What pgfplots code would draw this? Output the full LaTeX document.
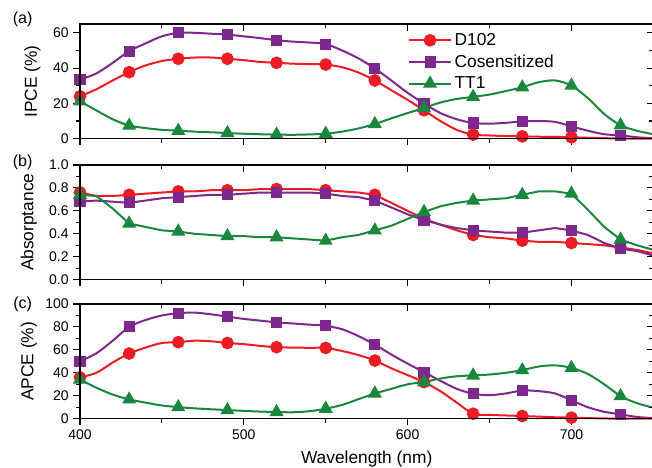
\documentclass[border=0pt]{standalone}
\usepackage{fontspec}
\setmainfont{Liberation Sans}
\usepackage{pgfplots}
\usepackage{pgfplotstable}
\pgfplotsset{compat=1.18}

\definecolor{cRed}{RGB}{237,28,36}
\definecolor{cPur}{RGB}{125,40,140}
\definecolor{cGrn}{RGB}{25,135,60}

% IPCE (%)
\pgfplotstableread{
nm d102 cos tt1
400 24 33.5 21.2
410 28 37 16
420 33 43 11
430 37.7 49.6 7.4
440 41.5 54 6
450 44 58 5
460 45.3 60 4.5
470 46 60 4
480 46 59.5 3.6
490 45.3 59 3.2
500 44.5 58 2.8
510 43.5 57 2.5
520 43 55.8 2.3
530 42.5 55 2.2
540 42.3 54.5 2.4
550 42 53.6 2.8
560 40.5 50 4
570 37.5 45.5 5.8
580 33 39.8 8.3
590 27.5 33 11.5
600 22 26 14.5
610 16.1 19.9 17.4
620 10 14.5 20.5
630 5 11 22.5
640 2.3 8.9 23.7
650 1.8 8.5 25
660 1.5 9 27
670 1.3 9.8 29.1
680 1.1 10 32
690 1 9.5 33
700 0.8 7 30.1
710 0.5 4.5 23
720 0.3 2.5 14
730 0 1.9 7.6
740 0 0.8 4.5
750 0 0.3 2.5
}\tabIPCE

% Absorptance
\pgfplotstableread{
nm d102 cos tt1
400 0.76 0.68 0.74
410 0.73 0.69 0.73
420 0.73 0.68 0.62
430 0.74 0.67 0.49
440 0.75 0.69 0.46
450 0.76 0.71 0.43
460 0.77 0.72 0.42
470 0.77 0.73 0.40
480 0.78 0.74 0.39
490 0.78 0.74 0.38
500 0.78 0.75 0.38
510 0.79 0.76 0.37
520 0.79 0.76 0.37
530 0.79 0.76 0.36
540 0.79 0.76 0.35
550 0.78 0.75 0.34
560 0.77 0.73 0.37
570 0.76 0.72 0.39
580 0.74 0.69 0.43
590 0.67 0.63 0.47
600 0.60 0.57 0.53
610 0.53 0.52 0.59
620 0.48 0.48 0.64
630 0.43 0.45 0.67
640 0.39 0.43 0.69
650 0.37 0.42 0.70
660 0.36 0.41 0.71
670 0.34 0.41 0.74
680 0.33 0.43 0.77
690 0.33 0.45 0.77
700 0.32 0.43 0.75
710 0.31 0.39 0.61
720 0.30 0.32 0.46
730 0.28 0.27 0.35
740 0.26 0.25 0.30
750 0.23 0.21 0.26
}\tabAbs

% APCE (%)
\pgfplotstableread{
nm d102 cos tt1
400 36 50 34.2
410 40 57 27
420 49 68 21
430 56.8 80 16.8
440 62 86 14
450 66 90 11.5
460 66.7 92 10.1
470 68 92.5 9
480 67.5 91 8.2
490 66 89 7.5
500 65 87 6.8
510 63.5 85.5 6.2
520 62.3 84 5.8
530 62 83 5.6
540 61.8 82 6.5
550 61.7 81 8.7
560 59 78 12
570 55.5 72 17
580 50.7 64.6 22
590 44 56 26
600 38 48 30
610 31.9 40.6 32
620 24 33 35
630 14 26 37
640 4.3 21.7 37.7
650 3.3 20.5 38.5
660 2.8 22 40
670 2.3 24.6 42.3
680 1.8 24 45.5
690 1.2 22 46.5
700 0.9 16 44.3
710 0.5 10 39
720 0.2 6 30
730 0 3.8 19.7
740 0 1.5 13.5
750 0 0.5 9.6
}\tabAPCE

\pgfplotsset{
  panel/.style={
    scale only axis, width=430pt, height=86pt,
    xmin=400, xmax=750, xtick={400,500,600,700},
    minor x tick num=1, minor y tick num=1,
    axis line style={line width=0.9pt},
    every tick/.style={line width=0.8pt, black},
    major tick length=5pt, minor tick length=3pt,
    tick label style={font=\fontsize{10.5}{12}\selectfont},
    label style={font=\fontsize{13}{15}\selectfont},
    /pgf/number format/assume math mode=true,
    clip=false,
  },
  front/.style={panel, tick pos=left, tick align=outside},
  mirror/.style={panel, tick pos=right, tick align=inside,
    xticklabels={}, yticklabels={}},
  sRed/.style={color=cRed, line width=1.5pt, mark=*, mark size=4pt,
    mark repeat=3, mark options={solid}},
  sPur/.style={color=cPur, line width=1.5pt, mark=square*, mark size=3.4pt,
    mark repeat=3, mark options={solid}},
  sGrn/.style={color=cGrn, line width=1.5pt, mark=triangle*, mark size=4.6pt,
    mark repeat=3, mark options={solid}},
}

\begin{document}
\begin{tikzpicture}
  % (a) IPCE
  \begin{axis}[front, name=pa, at={(0,0)}, anchor=north west,
    ymin=0, ymax=65, ytick={0,20,40,60}, xticklabels={},
    ylabel={IPCE (\%)},
    ylabel style={at={(axis description cs:-0.083,0.5)}, anchor=center},
    legend style={at={(rel axis cs:0.565,0.968)}, anchor=north west,
      draw=none, fill=none, font=\fontsize{13}{15}\selectfont, row sep=1.5pt},
    legend cell align=left,
    legend image code/.code={\draw[#1, mark repeat=2, mark phase=2]
      plot coordinates {(0cm,0cm) (0.55cm,0cm) (1.1cm,0cm)};},
    ]
    \addplot[sRed, smooth, restrict x to domain=400:720] table[x=nm, y=d102] {\tabIPCE};
    \addplot[sPur, smooth] table[x=nm, y=cos] {\tabIPCE};
    \addplot[sGrn, smooth] table[x=nm, y=tt1] {\tabIPCE};
    \addplot[sRed, mark=none, forget plot, restrict x to domain=720:750] table[x=nm, y=d102] {\tabIPCE};
    \legend{D102, Cosensitized, TT1}
    \node[font=\fontsize{12}{14}\selectfont] at (rel axis cs:0,1)
      [xshift=-43pt, yshift=3.5pt] {(a)};
  \end{axis}
  \begin{axis}[mirror, at={(0,0)}, anchor=north west, ymin=0, ymax=65,
    ytick={0,20,40,60}]
  \end{axis}

  % (b) Absorptance
  \begin{axis}[front, at={(0,-105.75pt)}, anchor=north west,
    ymin=0, ymax=1, ytick={0,0.2,...,1.0}, xticklabels={},
    yticklabel style={/pgf/number format/.cd, fixed, fixed zerofill, precision=1},
    ylabel={Absorptance},
    ylabel style={at={(axis description cs:-0.089,0.5)}, anchor=center},
    ]
    \addplot[sRed] table[x=nm, y=d102] {\tabAbs};
    \addplot[sPur] table[x=nm, y=cos] {\tabAbs};
    \addplot[sGrn] table[x=nm, y=tt1] {\tabAbs};
    \node[font=\fontsize{12}{14}\selectfont] at (rel axis cs:0,1)
      [xshift=-43pt, yshift=2pt] {(b)};
  \end{axis}
  \begin{axis}[mirror, at={(0,-105.75pt)}, anchor=north west,
    ymin=0, ymax=1, ytick={0,0.2,...,1.0}]
  \end{axis}

  % (c) APCE
  \begin{axis}[front, at={(0,-210pt)}, anchor=north west,
    ymin=0, ymax=100, ytick={0,20,...,100},
    ylabel={APCE (\%)}, xlabel={Wavelength (nm)},
    ylabel style={at={(axis description cs:-0.089,0.5)}, anchor=center},
    xlabel style={yshift=-1pt},
    ]
    \addplot[sRed, smooth, restrict x to domain=400:720] table[x=nm, y=d102] {\tabAPCE};
    \addplot[sPur, smooth] table[x=nm, y=cos] {\tabAPCE};
    \addplot[sGrn, smooth] table[x=nm, y=tt1] {\tabAPCE};
    \addplot[sRed, mark=none, restrict x to domain=720:750] table[x=nm, y=d102] {\tabAPCE};
    \node[font=\fontsize{12}{14}\selectfont] at (rel axis cs:0,1)
      [xshift=-43pt, yshift=0pt] {(c)};
  \end{axis}
  \begin{axis}[mirror, at={(0,-210pt)}, anchor=north west,
    ymin=0, ymax=100, ytick={0,20,...,100}]
  \end{axis}

  \pgfresetboundingbox
  \useasboundingbox (-60pt,18pt) rectangle (429pt,-332.25pt);
\end{tikzpicture}
\end{document}
